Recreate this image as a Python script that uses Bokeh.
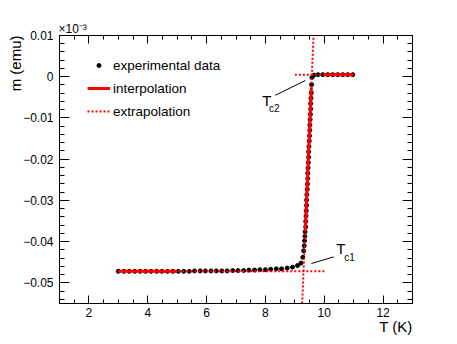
import math
from bokeh.plotting import figure
from bokeh.models import (Range1d, FixedTicker, LinearAxis, Label, Legend, LegendItem, Title)
from bokeh.embed import file_html
from bokeh.resources import INLINE

# ---------------- data (m in units of 10^-3 emu) ----------------
T_data = [3.00, 3.19, 3.37, 3.56, 3.74, 3.93, 4.11, 4.30, 4.48, 4.67, 4.85, 5.04,
          5.22, 5.41, 5.59, 5.78, 5.96, 6.15, 6.33, 6.52, 6.70, 6.89, 7.07, 7.26,
          7.44, 7.63, 7.81, 8.00, 8.18, 8.37, 8.55, 8.74, 8.92, 9.09, 9.21,
          9.27, 9.30, 9.32, 9.33, 9.34, 9.35,
          9.37, 9.37, 9.38, 9.39, 9.40, 9.40, 9.41, 9.42, 9.43, 9.44, 9.44, 9.45,
          9.46, 9.47, 9.47, 9.48, 9.49, 9.50, 9.51, 9.51, 9.52, 9.53, 9.54, 9.54,
          9.55, 9.56, 9.57, 9.58,
          9.66, 9.79, 9.95, 10.12, 10.29, 10.46, 10.63, 10.80, 10.97]
m_data = [-0.0472, -0.0472, -0.0472, -0.0472, -0.0472, -0.0472, -0.0472, -0.0472,
          -0.0472, -0.0472, -0.0472, -0.0472, -0.0472, -0.0472, -0.0471, -0.0471,
          -0.0471, -0.0471, -0.0471, -0.0471, -0.0471, -0.0470, -0.0470, -0.0470,
          -0.0469, -0.0469, -0.0468, -0.0468, -0.0467, -0.0466, -0.0466, -0.0464,
          -0.0462, -0.0458, -0.0452,
          -0.0438, -0.0422, -0.0410, -0.0398, -0.0387, -0.0376,
          -0.0364, -0.0351, -0.0338, -0.0325, -0.0312, -0.0299, -0.0286, -0.0273,
          -0.0260, -0.0247, -0.0234, -0.0221, -0.0208, -0.0195, -0.0182, -0.0169,
          -0.0156, -0.0143, -0.0130, -0.0117, -0.0104, -0.0091, -0.0078, -0.0065,
          -0.0052, -0.0039, -0.0019, -0.0002,
          0.0004, 0.0005, 0.0005, 0.0005, 0.0005, 0.0005, 0.0005, 0.0005, 0.0005]

# linear fits (interpolation) and their extensions (extrapolation)
low_fit_T = [3.0, 5.0]
low_fit_m = [-0.0472, -0.0472]
low_ext_T = [3.0, 10.0]
low_ext_m = [-0.0472, -0.0472]
high_fit_T = [10.0, 11.0]
high_fit_m = [0.0005, 0.0005]
high_ext_T = [9.0, 11.0]
high_ext_m = [0.0005, 0.0005]
steep_fit_T = [9.354, 9.562]
steep_fit_m = [-0.0374, -0.0026]
steep_ext_T = [9.249, 9.637]
steep_ext_m = [-0.055, 0.01]

# annotation pointers
tc2_line_T = [8.34, 9.36]
tc2_line_m = [-0.0045, -0.0009]
tc1_line_T = [9.56, 10.32]
tc1_line_m = [-0.0453, -0.0437]

# ticks
x_major = [2, 4, 6, 8, 10, 12]
x_minor = [1.0 + 0.5 * i for i in range(25)]
y_major = [-0.05, -0.04, -0.03, -0.02, -0.01, 0.0, 0.01]
y_labels = ["\u22120.05", "\u22120.04", "\u22120.03", "\u22120.02", "\u22120.01", "0", "0.01"]
y_minor = [round(-0.054 + 0.002 * i, 4) for i in range(33)]

FONT = "Liberation Sans"
RED = "#ff0000"

p = figure(frame_width=353, frame_height=268,
           x_range=Range1d(1, 13), y_range=Range1d(-0.055, 0.01),
           output_backend="svg", toolbar_location=None, title_location=None,
           min_border_left=59, min_border_right=44,
           min_border_top=35, min_border_bottom=40,
           x_axis_location="below", y_axis_location="left")
p.xgrid.visible = False
p.ygrid.visible = False
p.outline_line_color = "black"
p.background_fill_color = "white"
p.border_fill_color = "white"

# data
dots = p.scatter(T_data, m_data, size=4, color="black")

# fits
ext1 = p.line(low_ext_T, low_ext_m, line_color=RED, line_width=2, line_dash="2 2")
p.line(high_ext_T, high_ext_m, line_color=RED, line_width=2, line_dash="2 2")
p.line(steep_ext_T, steep_ext_m, line_color=RED, line_width=2, line_dash="2 2")
fit1 = p.line(low_fit_T, low_fit_m, line_color=RED, line_width=3)
p.line(high_fit_T, high_fit_m, line_color=RED, line_width=3)
p.line(steep_fit_T, steep_fit_m, line_color=RED, line_width=3)

# pointer lines
p.line(tc2_line_T, tc2_line_m, line_color="black", line_width=1)
p.line(tc1_line_T, tc1_line_m, line_color="black", line_width=1)

# axes
def style_axis(ax, ticker, ticks, tick_in, minor_in, show_labels):
    ax.ticker = ticker
    ax.major_tick_in = tick_in
    ax.major_tick_out = 0
    ax.minor_tick_in = minor_in
    ax.minor_tick_out = 0
    ax.axis_line_color = "black"
    ax.major_tick_line_color = "black"
    ax.minor_tick_line_color = "black"
    ax.major_label_text_font = FONT
    ax.major_label_text_color = "black"
    if show_labels:
        ax.major_label_text_font_size = "12px"
    else:
        ax.major_label_overrides = {t: "" for t in ticks}
        ax.major_label_text_font_size = "0px"
        ax.major_label_standoff = 0

xt = FixedTicker(ticks=x_major, minor_ticks=x_minor)
yt = FixedTicker(ticks=y_major, minor_ticks=y_minor)

style_axis(p.xaxis[0], xt, x_major, 8, 4, True)
p.xaxis[0].major_label_standoff = 4
style_axis(p.yaxis[0], yt, y_major, 10, 5, True)
p.yaxis[0].major_label_standoff = 6
p.yaxis[0].major_label_overrides = {v: s for v, s in zip(y_major, y_labels)}

top = LinearAxis()
style_axis(top, xt, x_major, 8, 4, False)
p.add_layout(top, "above")
right = LinearAxis()
style_axis(right, yt, y_major, 10, 5, False)
p.add_layout(right, "right")

# axis titles and exponent (outside the frame)
p.add_layout(Title(text="\u00d710\u207b\u00b3", align="left", text_font=FONT,
                   text_font_size="12px", text_font_style="normal",
                   text_color="black", standoff=-1, offset=-1), "above")
p.add_layout(Title(text="T (K)", align="right", text_font=FONT,
                   text_font_size="15px", text_font_style="normal",
                   text_color="black", standoff=-8), "below")
p.add_layout(Title(text="m (emu)", align="right", text_font=FONT,
                   text_font_size="15px", text_font_style="normal",
                   text_color="black", standoff=-6, offset=0), "left")

# legend
legend = Legend(items=[LegendItem(label="experimental data", renderers=[dots]),
                       LegendItem(label="interpolation", renderers=[fit1]),
                       LegendItem(label="extrapolation", renderers=[ext1])],
                location=(28, 182), orientation="vertical",
                background_fill_alpha=0, border_line_alpha=0,
                padding=0, margin=0, spacing=3,
                glyph_width=23, glyph_height=10, label_height=20,
                label_standoff=3,
                label_text_font=FONT, label_text_font_size="13.5px",
                label_text_color="black")
p.add_layout(legend)

# in-frame texts
def add_label(x, y, text, size):
    p.add_layout(Label(x=x, y=y, x_units="data", y_units="data", text=text,
                       text_font=FONT, text_font_size=size, text_color="black",
                       text_align="left", text_baseline="middle"))

add_label(7.89, -0.0057, "T", "15px")
add_label(8.12, -0.0076, "c2", "10px")
add_label(10.41, -0.0416, "T", "15px")
add_label(10.68, -0.0439, "c1", "10px")

open("out.html", "w").write(file_html(p, INLINE))
